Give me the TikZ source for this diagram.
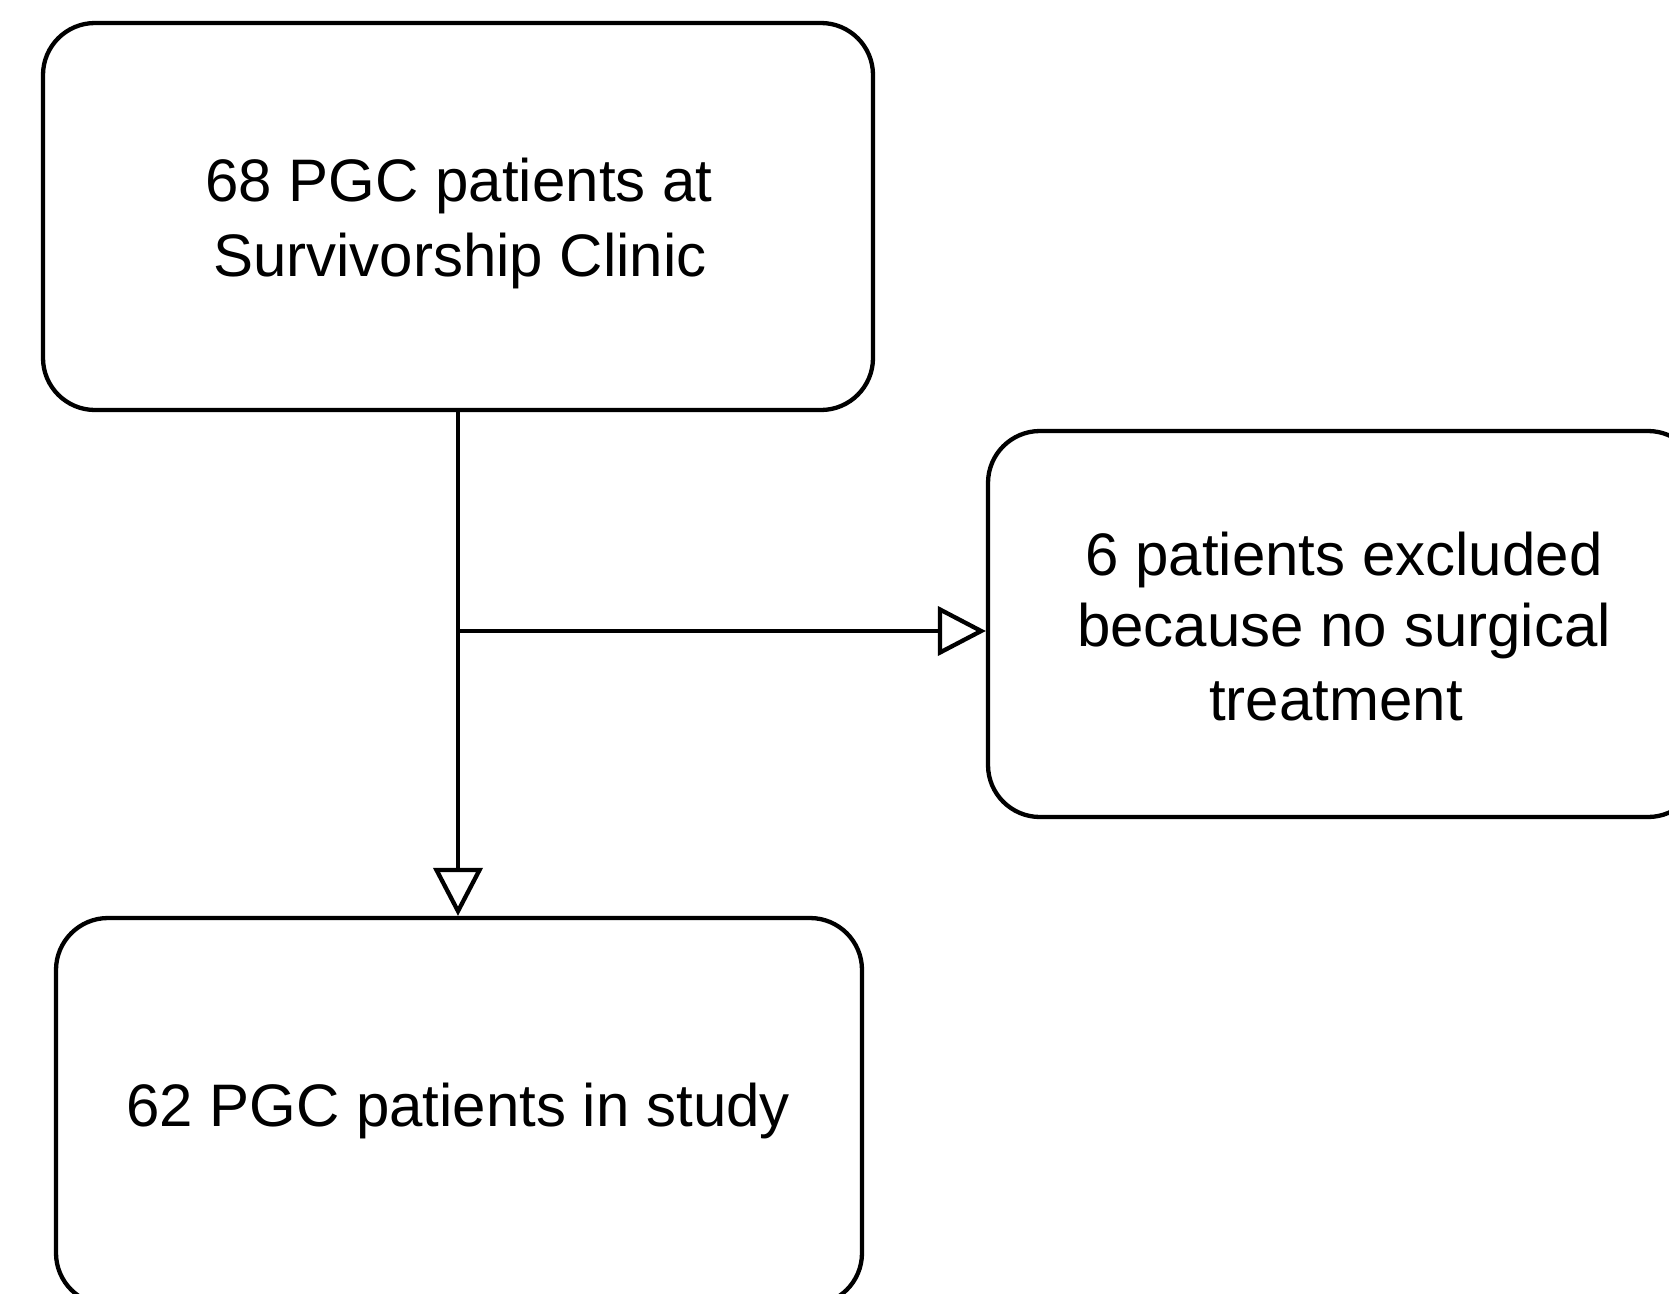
\documentclass[tikz,border=0pt]{standalone}
\usepackage{fontspec}
\setmainfont{Liberation Sans}
\usetikzlibrary{arrows.meta}
\tikzset{
  flowbox/.style={draw=black, line width=4.3pt, rounded corners=52pt, fill=none, inner sep=0pt},
  linetext/.style={anchor=base, inner sep=0pt, font=\fontsize{60}{75}\selectfont},
  flowarrow/.style={draw=black, line width=4.3pt, -{Triangle[open, length=48pt, width=49pt]}}
}
\begin{document}
\begin{tikzpicture}[x=1pt, y=-1pt]
  \useasboundingbox (0,0) rectangle (1669,1293);
  \clip (0,0) rectangle (1669,1293);
  \fill[white] (0,0) rectangle (1669,1293);

  % boxes
  \node[flowbox, minimum width=830pt, minimum height=387pt] (top) at (458,216.5) {};
  \node[flowbox, minimum width=712pt, minimum height=386pt] (excl) at (1344,624) {};
  \node[flowbox, minimum width=806pt, minimum height=387pt] (bot) at (459,1111.5) {};

  % texts
  \node[linetext] (top1) at (459,201.7) {68 PGC patients at};
  \node[linetext] (top2) at (460,276.7) {Survivorship Clinic};
  \node[linetext] (ex1) at (1344,575) {6 patients excluded};
  \node[linetext] (ex2) at (1344,646.5) {because no surgical};
  \node[linetext] (ex3) at (1336,720) {treatment};
  \node[linetext] (bot1) at (458,1126.7) {62 PGC patients in study};

  % connectors
  \coordinate (j) at (458,631);
  \draw[flowarrow] (top.south) -- (top.south |- bot.north);
  \draw[flowarrow] (j) -- (j -| excl.west);
\end{tikzpicture}
\end{document}
